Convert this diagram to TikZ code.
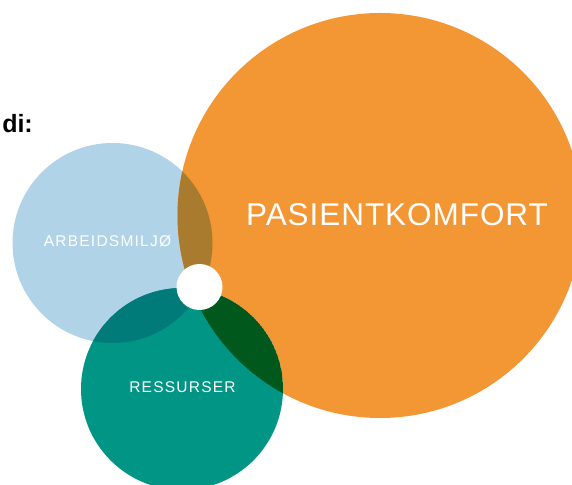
\documentclass[tikz,border=0pt]{standalone}
\usepackage{fontspec}
\setmainfont{Liberation Sans}
\newfontfamily\spacedfont[LetterSpace=8]{Liberation Sans}
\newfontfamily\widefont[LetterSpace=3]{Liberation Sans}
\usetikzlibrary{shapes}
\definecolor{orangec}{RGB}{243,150,52}
\definecolor{bluec}{RGB}{176,211,232}
\definecolor{tealc}{RGB}{0,149,133}
\definecolor{brownc}{RGB}{168,123,46}
\definecolor{darkteal}{RGB}{0,123,121}
\definecolor{darkgreen}{RGB}{0,88,28}
\definecolor{darkest}{RGB}{0,72,24}

\begin{document}
\begin{tikzpicture}[x=1pt,y=1pt,
    bignode/.style={circle, inner sep=0pt, draw=none},
    smalltext/.style={text=white, font=\spacedfont\fontsize{15.5}{18}\selectfont}]

    \useasboundingbox (0,0) rectangle (572,484);

    %\node[bignode] at (0,0) {};
    \node[bignode, fill=bluec, minimum size=200pt](b1) at (112.5,241) {};
    \node[bignode, fill=orangec, minimum size=405pt](o1) at (380,268.5) {};
    \node[bignode, fill=tealc, minimum size=202pt](t1) at (182,95) {};

    % overlaps
    \begin{scope}
        \clip (b1.center) circle (100);
        \fill[brownc] (o1.center) circle (202.5);
        \fill[darkteal] (t1.center) circle (101);
        \clip (o1.center) circle (202.5);
        \fill[darkest] (t1.center) circle (101);
    \end{scope}
    \begin{scope}
        \clip (o1.center) circle (202.5);
        \clip (t1.center) circle (101);
        \fill[darkgreen] (t1.center) circle (101);
        \fill[darkest] (b1.center) circle (100);
    \end{scope}

    \node[bignode, fill=white, minimum size=46pt](w1) at (199.5,197) {};

    \node[smalltext](u1) at (107.5,243) {ARBEIDSMILJØ};
    \node[smalltext](u2) at (182.5,97) {RESSURSER};
    \node[text=white, font=\widefont\fontsize{31.5}{36}\selectfont](u3) at (397,269.5) {PASIENTKOMFORT};
    \node[anchor=base east, inner sep=0pt, font=\fontsize{25}{30}\selectfont\bfseries](u4) at (33,351) {di:};

\end{tikzpicture}
\end{document}
